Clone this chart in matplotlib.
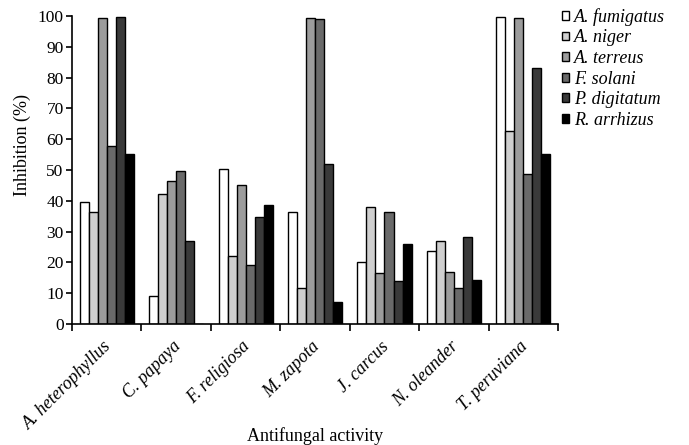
import numpy as np
import matplotlib
matplotlib.use("Agg")
import matplotlib.pyplot as plt
from matplotlib.patches import Patch
from matplotlib.transforms import ScaledTranslation

plt.rcParams['font.family'] = ['Liberation Serif', 'DejaVu Serif']

plants = ['A. heterophyllus', 'C. papaya', 'F. religiosa', 'M. zapota',
          'J. carcus', 'N. oleander', 'T. peruviana']
fungi = ['A. fumigatus', 'A. niger', 'A. terreus', 'F. solani',
         'P. digitatum', 'R. arrhizus']

# inhibition (%) per fungus, one value per plant extract
a_fumigatus = [39.5, 9.0, 50.2, 36.4, 20.1, 23.7, 99.8]
a_niger = [36.3, 42.2, 22.2, 11.7, 37.9, 26.9, 62.5]
a_terreus = [99.2, 46.4, 45.0, 99.2, 16.6, 16.9, 99.2]
f_solani = [57.9, 49.8, 19.1, 98.9, 36.4, 11.8, 48.8]
p_digitatum = [99.8, 26.8, 34.7, 51.8, 14.0, 28.4, 83.2]
r_arrhizus = [55.2, 0.0, 38.7, 7.2, 25.9, 14.4, 55.2]

series = [a_fumigatus, a_niger, a_terreus, f_solani, p_digitatum, r_arrhizus]
colors = ['#ffffff', '#cfcfcf', '#9c9c9c', '#6a6a6a', '#3a3a3a', '#000000']

fig = plt.figure(figsize=(6.89, 4.45), dpi=100)
ax = fig.add_axes([0.1045, 0.272, 0.7055, 0.692])

x = np.arange(len(plants))
w = 0.13
for i, (vals, c) in enumerate(zip(series, colors)):
    pos = x + (i - 2.5) * w
    ax.bar(pos, vals, width=w, color=c, edgecolor='black', linewidth=1.0)

ax.set_xlim(-0.5, len(plants) - 0.5)
ax.set_ylim(0, 100)
ax.set_yticks(np.arange(0, 101, 10))
ax.tick_params(axis='y', labelsize=12.5, length=4, width=1.2, direction='out', pad=2)

ax.set_xticks(np.arange(-0.5, len(plants), 1.0))
ax.set_xticklabels([])
ax.tick_params(axis='x', which='major', length=5, width=1.2, direction='out')
ax.set_xticks(x, minor=True)
ax.set_xticklabels(plants, minor=True, rotation=45, ha='right',
                   fontsize=13, style='italic')
ax.tick_params(axis='x', which='minor', length=0, pad=10)
# nudge the slanted labels to the right, as in the original
shift = ScaledTranslation(8 / 100, 0, fig.dpi_scale_trans)
for lab in ax.get_xticklabels(minor=True):
    lab.set_transform(lab.get_transform() + shift)

for s in ['top', 'right']:
    ax.spines[s].set_visible(False)
for s in ['left', 'bottom']:
    ax.spines[s].set_linewidth(1.2)

ax.set_ylabel('Inhibition (%)', fontsize=13)
ax.yaxis.set_label_coords(-0.085, 0.58)
ax.set_xlabel('Antifungal activity', fontsize=13)
ax.xaxis.set_label_coords(0.5, -0.335)

handles = [Patch(facecolor=c, edgecolor='black', linewidth=1.0) for c in colors]
leg = fig.legend(handles, fungi, loc='upper left', bbox_to_anchor=(562 / 689, 0.982),
                 frameon=False, borderpad=0, borderaxespad=0,
                 handlelength=0.38, handleheight=0.38,
                 handletextpad=0.3, labelspacing=0.2,
                 prop={'size': 13, 'style': 'italic'})

fig.savefig('out.png', dpi=100)
